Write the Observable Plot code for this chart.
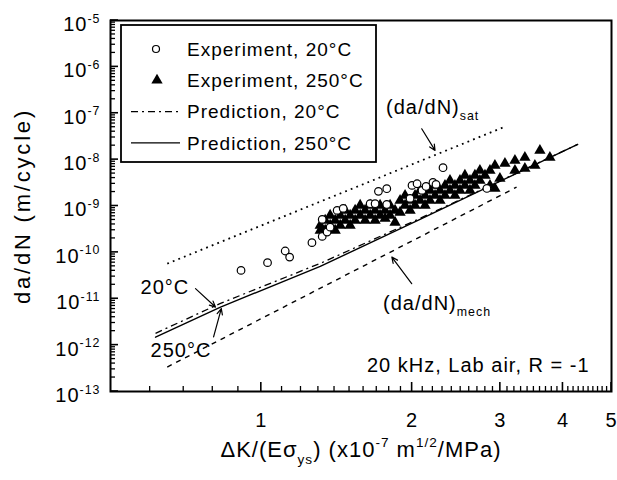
<!DOCTYPE html>
<html><head><meta charset="utf-8">
<script src="https://cdn.jsdelivr.net/npm/d3@7"></script>
<script src="https://cdn.jsdelivr.net/npm/@observablehq/plot@0.6"></script>
<style>html,body{margin:0;padding:0;background:#fff;} svg{display:block;}</style>
</head><body><div id="chart"></div>
<script>
// ---------- data ----------
const xDomain = [0.5, 5];
const yDomain = [1e-13, 1e-5];
const xMajorTicks = [1, 2, 3, 4, 5];
const yMajorTicks = [1e-13, 1e-12, 1e-11, 1e-10, 1e-9, 1e-8, 1e-7, 1e-6, 1e-5];

// Experiment, 20°C (open circles)
const exp20X = [0.911, 1.029, 1.116, 1.139, 1.262, 1.323, 1.323, 1.353, 1.372, 1.417, 1.457, 1.649, 1.687, 1.713, 1.780, 1.780, 1.981, 1.999, 2.046, 2.093, 2.132, 2.201, 2.232, 2.305, 2.820];
const exp20Y = [4.09e-11, 6.0e-11, 1.07e-10, 7.9e-11, 1.62e-10, 5.14e-10, 2.21e-10, 2.74e-10, 3.5e-10, 8.04e-10, 8.88e-10, 1.12e-9, 1.12e-9, 2.07e-9, 2.36e-9, 1.08e-9, 1.46e-9, 2.78e-9, 3.02e-9, 2.17e-9, 2.64e-9, 3.23e-9, 2.92e-9, 6.69e-9, 2.39e-9];

// Experiment, 250°C (filled triangles)
const exp250X = [1.311, 1.311, 1.341, 1.341, 1.372, 1.372, 1.404, 1.404, 1.437, 1.437, 1.470, 1.470, 1.504, 1.504, 1.539, 1.539, 1.575, 1.575, 1.611, 1.611, 1.649, 1.649, 1.687, 1.687, 1.726, 1.726, 1.766, 1.766, 1.807, 1.807, 1.849, 1.849, 1.892, 1.892, 1.936, 1.936, 1.981, 1.981, 2.027, 2.027, 2.074, 2.074, 2.122, 2.122, 2.171, 2.171, 2.222, 2.222, 2.273, 2.273, 2.326, 2.326, 2.380, 2.380, 2.435, 2.435, 2.492, 2.492, 2.549, 2.549, 2.609, 2.609, 2.669, 2.669, 2.731, 2.731, 2.795, 2.860, 2.860, 2.926, 2.926, 2.994, 3.064, 3.208, 3.208, 3.358, 3.358, 3.516, 3.598, 3.767];
const exp250Y = [3.82e-10, 2.98e-10, 4.90e-10, 2.98e-10, 3.82e-10, 6.27e-10, 4.90e-10, 2.98e-10, 6.27e-10, 3.82e-10, 4.90e-10, 8.04e-10, 6.27e-10, 3.82e-10, 8.04e-10, 4.90e-10, 6.27e-10, 1.03e-9, 4.90e-10, 8.04e-10, 6.27e-10, 1.03e-9, 8.04e-10, 4.90e-10, 6.27e-10, 1.03e-9, 8.04e-10, 5.40e-10, 1.03e-9, 6.27e-10, 8.04e-10, 4.43e-10, 1.32e-9, 7.28e-10, 1.03e-9, 1.69e-9, 1.32e-9, 8.04e-10, 1.69e-9, 1.03e-9, 1.32e-9, 2.17e-9, 1.69e-9, 1.03e-9, 2.17e-9, 1.32e-9, 1.69e-9, 2.78e-9, 2.17e-9, 1.32e-9, 2.78e-9, 1.69e-9, 2.17e-9, 3.56e-9, 2.78e-9, 1.69e-9, 3.56e-9, 2.17e-9, 2.78e-9, 4.57e-9, 3.56e-9, 2.17e-9, 4.57e-9, 2.78e-9, 3.56e-9, 5.85e-9, 4.57e-9, 5.85e-9, 2.78e-9, 2.39e-9, 7.50e-9, 3.93e-9, 8.28e-9, 9.61e-9, 5.85e-9, 1.115e-8, 6.46e-9, 7.50e-9, 1.579e-8, 1.115e-8];

// Predictions
const pred20X = [0.615, 0.829, 1.311, 2.074, 4.28];
const pred20Y = [1.80e-12, 7.96e-12, 5.79e-11, 5.40e-10, 2.13e-8];
const pred250X = [0.615, 0.829, 1.311, 2.074, 4.28];
const pred250Y = [1.48e-12, 6.62e-12, 4.99e-11, 5.14e-10, 2.13e-8];

// Bounds
const satX = [0.649, 3.049];
const satY = [5.71e-11, 5.02e-8];
const mechX = [0.649, 3.232];
const mechY = [3.37e-13, 2.55e-9];

// Annotations (left-anchored)
const annotText = ["(da/dN)_{sat}", "(da/dN)_{mech}", "20°C", "250°C"];
const annotX = [1.774, 1.750, 0.574, 0.601];
const annotY = [1.33e-7, 7.96e-12, 1.72e-11, 7.73e-13];
// Annotation (right-anchored)
const condText = ["20 kHz, Lab air, R = -1"];
const condX = [4.52];
const condY = [3.67e-13];

const arrowX1 = [2.090, 1.996, 0.739, 0.803];
const arrowY1 = [4.63e-8, 2.11e-11, 1.65e-11, 1.50e-12];
const arrowX2 = [2.222, 1.822, 0.810, 0.832];
const arrowY2 = [1.579e-8, 7.92e-11, 6.62e-12, 6.12e-12];

const xLabel = "ΔK/(Eσ_{ys}) (x10^{-7} m^{1/2}/MPa)";
const yLabel = "da/dN (m/cycle)";
const legendLabels = ["Experiment, 20°C", "Experiment, 250°C", "Prediction, 20°C", "Prediction, 250°C"];

// ---------- build ----------
const zip = (X, Y) => X.map((x, i) => ({x, y: Y[i]}));
const exp20 = zip(exp20X, exp20Y);
const exp250 = zip(exp250X, exp250Y);
const pred20 = zip(pred20X, pred20Y);
const pred250 = zip(pred250X, pred250Y);
const sat = zip(satX, satY);
const mech = zip(mechX, mechY);
const annots = annotText.map((t, i) => ({t, x: annotX[i], y: annotY[i]}));
const conds = condText.map((t, i) => ({t, x: condX[i], y: condY[i]}));
const arrows = arrowX1.map((x1, i) => ({x1, y1: arrowY1[i], x2: arrowX2[i], y2: arrowY2[i]}));
const xMinorTicks = d3.range(6, 50).map(k => k / 10).filter(v => !xMajorTicks.includes(v));
const yMinorTicks = yMajorTicks.slice(0, -1).flatMap(d => d3.range(2, 10).map(k => k * d));

const FONT = "'Liberation Sans', Arial, Helvetica, sans-serif";
const W = 617, H = 480, ML = 110, MR = 6, MT = 20, MB = 89;

const chart = Plot.plot({
  width: W, height: H,
  marginLeft: ML, marginRight: MR, marginTop: MT, marginBottom: MB,
  style: {fontFamily: FONT, fontSize: "20px", background: "white", color: "black", letterSpacing: "1px"},
  x: {type: "log", domain: xDomain, label: null},
  y: {type: "log", domain: yDomain, label: null},
  marks: [
    Plot.axisX({ticks: xMajorTicks, tickSize: 0, tickPadding: 21, tickFormat: d => String(d), fontSize: 20, label: null}),
    Plot.axisY({ticks: yMajorTicks, tickSize: 0, tickPadding: 10, dy: 4, fontSize: 20, label: null,
      tickFormat: d => `10^{${Math.round(Math.log10(d))}}`}),
    Plot.line(sat, {x: "x", y: "y", stroke: "black", strokeWidth: 1.8, strokeDasharray: "1.8 4.2", strokeLinecap: "butt"}),
    Plot.line(mech, {x: "x", y: "y", stroke: "black", strokeWidth: 1.4, strokeDasharray: "5 5", strokeLinecap: "butt"}),
    Plot.line(pred20, {x: "x", y: "y", stroke: "black", strokeWidth: 1.3, strokeDasharray: "7 4 2 4", strokeLinecap: "butt"}),
    Plot.line(pred250, {x: "x", y: "y", stroke: "black", strokeWidth: 1.4}),
    Plot.dot(exp250, {x: "x", y: "y", symbol: "triangle", r: 4.2, fill: "black", stroke: "none"}),
    Plot.dot(exp20, {x: "x", y: "y", symbol: "circle", r: 3.8, fill: "white", stroke: "black", strokeWidth: 1.2}),
    Plot.arrow(arrows, {x1: "x1", y1: "y1", x2: "x2", y2: "y2", stroke: "black", strokeWidth: 1.2, headLength: 8, headAngle: 50}),
    Plot.text(annots, {x: "x", y: "y", text: "t", textAnchor: "start", lineAnchor: "middle", fontSize: 20, fill: "black"}),
    Plot.text(conds, {x: "x", y: "y", text: "t", textAnchor: "end", lineAnchor: "middle", fontSize: 20, fill: "black"}),
    Plot.text([xLabel], {text: d => d, frameAnchor: "bottom", textAnchor: "middle", lineAnchor: "middle", dy: 58, fontSize: 22, fill: "black"}),
    Plot.text([yLabel], {text: d => d, frameAnchor: "left", textAnchor: "middle", lineAnchor: "middle", dx: -88, rotate: -90, fontSize: 22, fill: "black"}),
    Plot.frame({stroke: "black", strokeWidth: 2})
  ]
});
document.getElementById("chart").appendChild(chart);

// ---------- inward tick marks, positioned with the chart's own scales ----------
const sx = chart.scale("x"), sy = chart.scale("y");
const fb = H - MB, fl = ML;
const tg = d3.select(chart).append("g").attr("stroke", "black").attr("stroke-linecap", "butt");
const addX = (vals, len, w) => vals.forEach(v => { const px = sx.apply(v);
  tg.append("line").attr("x1", px).attr("x2", px).attr("y1", fb).attr("y2", fb - len).attr("stroke-width", w); });
const addY = (vals, len, w) => vals.forEach(v => { const py = sy.apply(v);
  tg.append("line").attr("y1", py).attr("y2", py).attr("x1", fl).attr("x2", fl + len).attr("stroke-width", w); });
addX(xMinorTicks, 5, 1.3);
addX(xMajorTicks, 9, 1.6);
addY(yMinorTicks, 5, 1.3);
addY(yMajorTicks, 8, 1.6);

// y label letter spacing
chart.querySelectorAll("text").forEach(t => { if (t.textContent === yLabel) t.style.letterSpacing = "2.8px"; });

// ---------- rich text (sub/superscripts) ----------
function richify(el) {
  const s = el.textContent;
  if (!/[\^_]\{/.test(s)) return;
  const base = parseFloat(getComputedStyle(el).fontSize) || 20;
  const parts = s.split(/(\^\{[^}]*\}|_\{[^}]*\})/).filter(p => p !== "");
  el.textContent = "";
  let shift = 0;
  for (const p of parts) {
    const t = document.createElementNS("http://www.w3.org/2000/svg", "tspan");
    let target = 0, size = null, txt = p;
    if (p.startsWith("^{")) { target = -0.42 * base; size = 0.62 * base; txt = p.slice(2, -1); }
    else if (p.startsWith("_{")) { target = 0.32 * base; size = 0.62 * base; txt = p.slice(2, -1); }
    if (target - shift !== 0) t.setAttribute("dy", (target - shift).toFixed(2));
    shift = target;
    if (size) t.setAttribute("font-size", size.toFixed(1));
    t.textContent = txt;
    el.appendChild(t);
  }
}
chart.querySelectorAll("text").forEach(richify);

// ---------- legend ----------
const svg = d3.select(chart);
const lg = svg.append("g").attr("font-family", FONT).attr("font-size", 19).attr("text-anchor", "start");
const box = {x: 121, y: 25, w: 255, h: 137};
lg.append("rect").attr("x", box.x).attr("y", box.y).attr("width", box.w).attr("height", box.h)
  .attr("fill", "white").attr("stroke", "black").attr("stroke-width", 1.8);
legendLabels.forEach((label, i) => {
  const cy = 49 + i * 31.3;
  if (i === 0) lg.append("circle").attr("cx", 156).attr("cy", cy).attr("r", 3.5).attr("fill", "white").attr("stroke", "black").attr("stroke-width", 1.2);
  if (i === 1) lg.append("path").attr("d", d3.symbol(d3.symbolTriangle, Math.PI * 4.2 * 4.2)()).attr("transform", `translate(157,${cy})`).attr("fill", "black");
  if (i === 2) lg.append("line").attr("x1", 131).attr("x2", 180).attr("y1", cy).attr("y2", cy).attr("stroke", "black").attr("stroke-width", 1.3).attr("stroke-dasharray", "7 4 2 4");
  if (i === 3) lg.append("line").attr("x1", 131).attr("x2", 180).attr("y1", cy).attr("y2", cy).attr("stroke", "black").attr("stroke-width", 1.4);
  lg.append("text").attr("x", 187).attr("y", cy).attr("dy", "0.35em").attr("fill", "black").text(label);
});
</script></body></html>
